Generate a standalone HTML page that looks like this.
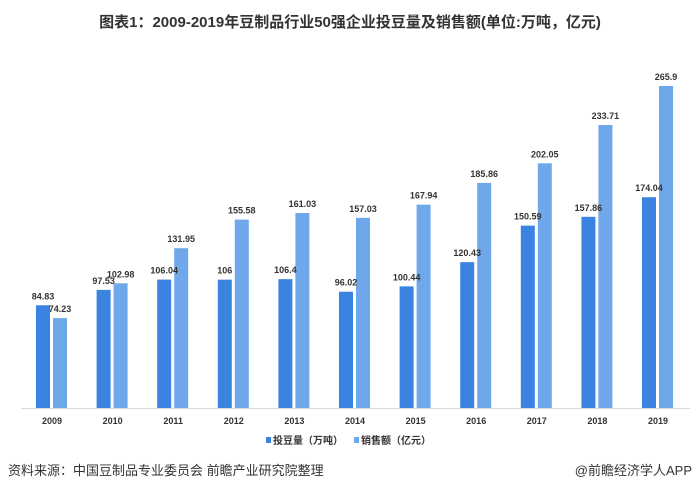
<!DOCTYPE html>
<html><head><meta charset="utf-8"><style>
body{margin:0;background:#fff;width:700px;height:493px;overflow:hidden;font-family:"Liberation Sans","Noto Sans CJK SC",sans-serif}
</style></head><body>
<svg id="c" width="700" height="493">
<text x="350" y="27" text-anchor="middle" font-size="15" font-weight="bold" fill="#333">图表1：2009-2019年豆制品行业50强企业投豆量及销售额(单位:万吨，亿元)</text>
<line x1="21" y1="408.5" x2="690" y2="408.5" stroke="#d9d9d9"/>
<g id="bars"></g>
<g>
<rect x="266" y="437" width="5" height="6" fill="#3b83e0"/>
<text x="273" y="444" font-size="10" font-weight="bold" fill="#333">投豆量（万吨）</text>
<rect x="354" y="437" width="5" height="6" fill="#6fa8ea"/>
<text x="361" y="444" font-size="10" font-weight="bold" fill="#333">销售额（亿元）</text>
</g>
<text x="8" y="475" font-size="13" fill="#333">资料来源：中国豆制品专业委员会 前瞻产业研究院整理</text>
<text x="692" y="475" text-anchor="end" font-size="13" fill="#333">@前瞻经济学人APP</text>
</svg>
<script>
const years=["2009","2010","2011","2012","2013","2014","2015","2016","2017","2018","2019"];
const volume=[84.83,97.53,106.04,106,106.4,96.02,100.44,120.43,150.59,157.86,174.04];
const sales=[74.23,102.98,131.95,155.58,161.03,157.03,167.94,185.86,202.05,233.71,265.9];
const base=408, k=322/265.9;
const y=v=>base-v*k;
const xc=i=>52+i*60.6;
const g=document.getElementById('bars');
const NS='http://www.w3.org/2000/svg';
function mk(t,a){const e=document.createElementNS(NS,t);for(const n in a)e.setAttribute(n,a[n]);g.appendChild(e);return e;}
years.forEach((yr,i)=>{
 const c=xc(i);
 const b1=mk('rect',{x:c-16,y:y(volume[i]),width:14,height:volume[i]*k,fill:'#3b83e0'});
 
 
 const b2=mk('rect',{x:c+1,y:y(sales[i]),width:14,height:sales[i]*k,fill:'#6fa8ea'});
 
 
 const t1=mk('text',{x:c-9,y:y(volume[i])-6,'text-anchor':'middle','font-size':9,'font-weight':'bold',fill:'#333'});
 t1.textContent=volume[i];
 
 
 const t2=mk('text',{x:c+8,y:y(sales[i])-6,'text-anchor':'middle','font-size':9,'font-weight':'bold',fill:'#333'});
 t2.textContent=sales[i];
 
 
 const t3=mk('text',{x:c,y:424,'text-anchor':'middle','font-size':9,'font-weight':'bold',fill:'#333'});
 t3.textContent=yr;
 
 
});
</script>
</body></html>
